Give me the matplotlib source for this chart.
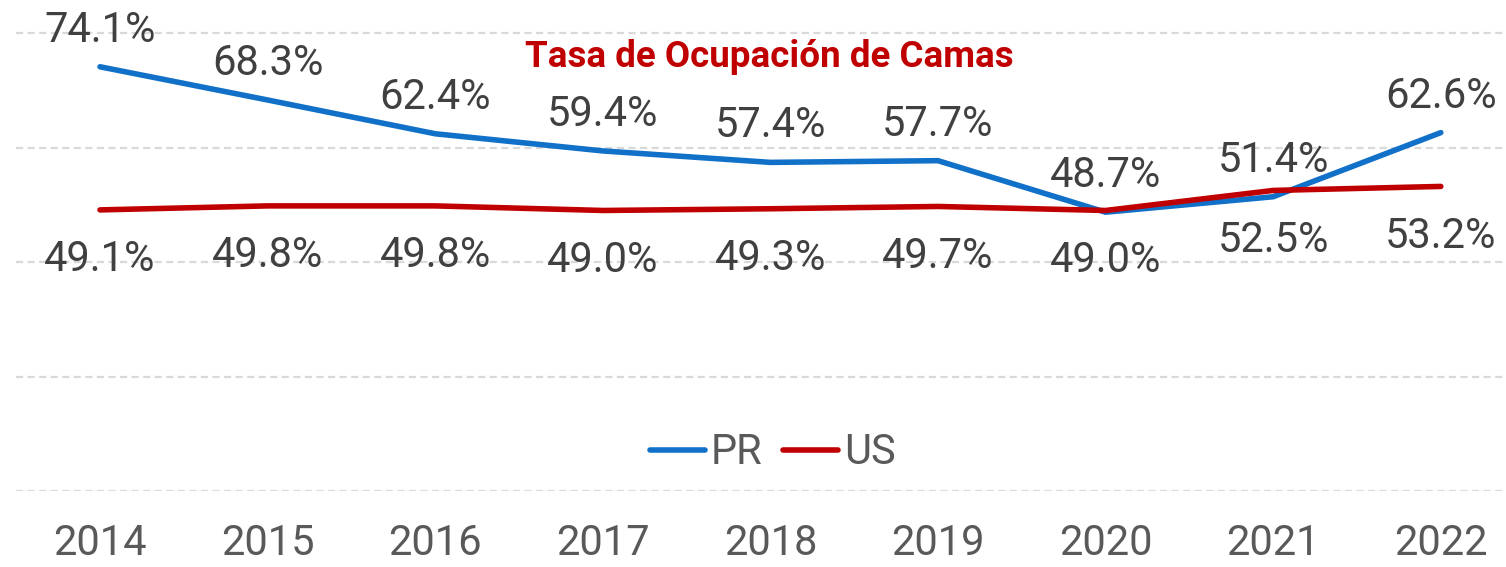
import numpy as np
import matplotlib.pyplot as plt

# datos
anios = ['2014', '2015', '2016', '2017', '2018', '2019', '2020', '2021', '2022']
pr = [74.1, 68.3, 62.4, 59.4, 57.4, 57.7, 48.7, 51.4, 62.6]
us = [49.1, 49.8, 49.8, 49.0, 49.3, 49.7, 49.0, 52.5, 53.2]
titulo = 'Tasa de Ocupación de Camas'

azul = '#1170C8'
rojo = '#C00000'
gris = '#404040'

plt.rcParams['font.family'] = ['Roboto', 'DejaVu Sans']

W, H = 1506, 567
fig = plt.figure(figsize=(W / 100, H / 100), dpi=100)
# eje: x=0 en 100px, paso 167.6px; y=0 en 491px, 5.725px por punto
paso = 167.6
izq = 100 - paso / 2
ax = fig.add_axes([izq / W, (H - 491) / H, (W - izq) / W, 491 / H])
ax.set_xlim(-0.5, -0.5 + (W - izq) / paso)
ax.set_ylim(0, 491 / 5.725)

x = np.arange(len(anios))
ax.plot(x, pr, color=azul, lw=4, solid_capstyle='round', solid_joinstyle='round', label='PR', zorder=3)
ax.plot(x, us, color=rojo, lw=4, solid_capstyle='round', solid_joinstyle='round', label='US', zorder=3)

for i in range(len(anios)):
    ax.annotate(f'{pr[i]:.1f}%', (x[i], pr[i]), xytext=(0, 18), textcoords='offset points',
                ha='center', va='baseline', fontsize=30, color=gris)
    ax.annotate(f'{us[i]:.1f}%', (x[i], us[i]), xytext=(0, -44), textcoords='offset points',
                ha='center', va='baseline', fontsize=30, color=gris)

ax.set_yticks([0, 20, 40, 60, 80])
ax.yaxis.grid(True, color='#D9D9D9', lw=1.6, dashes=(3.2, 2.0))
ax.set_axisbelow(True)
ax.tick_params(axis='y', length=0, labelleft=False)
ax.set_xticks(x)
ax.set_xticklabels(anios, fontsize=30, color='#595959')
ax.tick_params(axis='x', length=0, pad=23)
for s in ax.spines.values():
    s.set_visible(False)

fig.text(769 / W, 1 - 67 / H, titulo, ha='center', va='baseline', fontsize=26.5,
         fontweight='bold', color=rojo)

fig.legend(loc='center', bbox_to_anchor=(773 / W, 1 - 453 / H), ncol=2, frameon=False,
           fontsize=30, handlelength=1.3, handletextpad=0.15, columnspacing=0.5,
           labelcolor='#595959')

fig.savefig('out.png', dpi=100)
